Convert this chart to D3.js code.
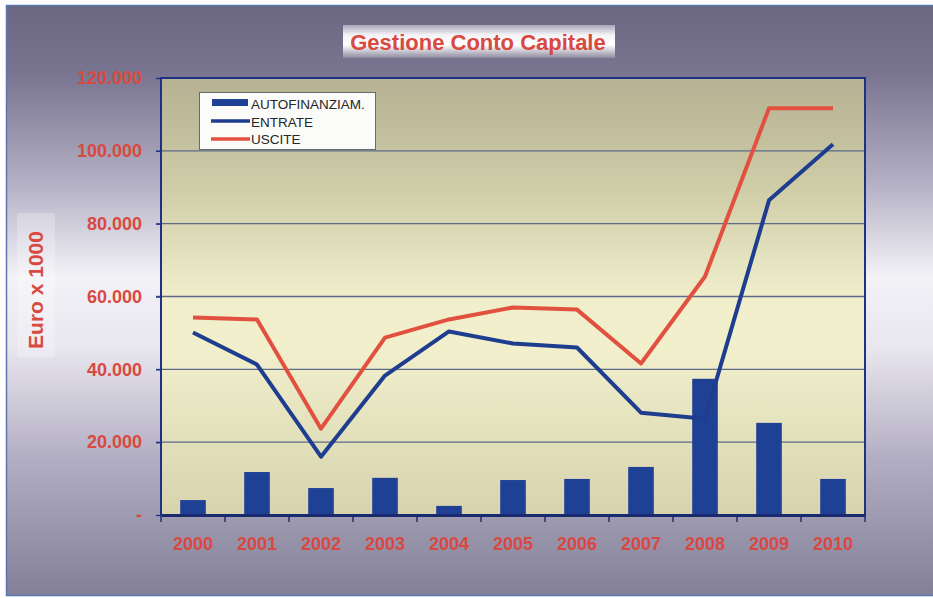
<!DOCTYPE html>
<html>
<head>
<meta charset="utf-8">
<script src="https://cdn.jsdelivr.net/npm/d3@7"></script>
<style>
  html, body { margin: 0; padding: 0; background: #ffffff; }
  svg { display: block; font-family: "Liberation Sans", Arial, sans-serif; }
</style>
</head>
<body>
<svg id="chart" width="933" height="598"></svg>
<script>
// Capital account (Euro x 1000), 2000-2010
const years = ["2000","2001","2002","2003","2004","2005","2006","2007","2008","2009","2010"];
const autofinanziamento = [4100, 11800, 7400, 10200, 2500, 9600, 9900, 13200, 37400, 25300, 9900];
const entrate = [50100, 41300, 16000, 38300, 50400, 47100, 46000, 28100, 26400, 86400, 101800];
const uscite = [54200, 53700, 23700, 48700, 53700, 57000, 56400, 41600, 65500, 111700, 111700];
const yTicks = [0, 20000, 40000, 60000, 80000, 100000, 120000];
const seriesNames = ["AUTOFINANZIAM.", "ENTRATE", "USCITE"];

const W = 933, H = 598;
const plot = { left: 161, right: 865, top: 78, bottom: 515 };
const RED = "#e2503f", LABEL_RED = "#d8493f", NAVY = "#1e3d8f", BAR = "#1f4195";

const svg = d3.select("#chart");
const defs = svg.append("defs");

// page background: purple-grey with a light band through the middle
const bg = defs.append("linearGradient").attr("id", "bg").attr("x1", 0).attr("y1", 0).attr("x2", 0).attr("y2", 1);
[[0, "#6b6783"], [0.12, "#7a7691"], [0.3, "#b3afc4"], [0.46, "#f3f2f7"], [0.58, "#e8e6ee"], [0.78, "#afabc0"], [1, "#837f97"]]
  .forEach(([o, c]) => bg.append("stop").attr("offset", o).attr("stop-color", c));

// plot background: olive at the top fading to pale yellow
const pg = defs.append("linearGradient").attr("id", "plotbg").attr("x1", 0).attr("y1", 0).attr("x2", 0).attr("y2", 1);
[[0, "#b5b192"], [0.25, "#cfcca8"], [0.5, "#f0eecb"], [0.62, "#f1efcc"], [1, "#d6d3ad"]]
  .forEach(([o, c]) => pg.append("stop").attr("offset", o).attr("stop-color", c));

// title box: white centre with grey edges
const tg = defs.append("linearGradient").attr("id", "titlebg").attr("x1", 0).attr("y1", 0).attr("x2", 0).attr("y2", 1);
[[0, "#a9a6b8"], [0.3, "#f4f4f7"], [0.6, "#ffffff"], [1, "#8f8ba0"]]
  .forEach(([o, c]) => tg.append("stop").attr("offset", o).attr("stop-color", c));

svg.append("rect").attr("width", W).attr("height", H).attr("fill", "#ffffff");
svg.append("rect").attr("x", 6).attr("y", 5).attr("width", W - 6).attr("height", 591).attr("fill", "url(#bg)");
// frame lines
svg.append("line").attr("x1", 6).attr("x2", W).attr("y1", 5.5).attr("y2", 5.5).attr("stroke", "#5a78b0").attr("stroke-width", 1.5);
svg.append("line").attr("x1", 6.5).attr("x2", 6.5).attr("y1", 5).attr("y2", 596).attr("stroke", "#5a78b0").attr("stroke-width", 1.5);
svg.append("line").attr("x1", 6).attr("x2", W).attr("y1", 595.5).attr("y2", 595.5).attr("stroke", "#5a78b0").attr("stroke-width", 1.5);

// title
svg.append("rect").attr("x", 343).attr("y", 25).attr("width", 272).attr("height", 33).attr("fill", "url(#titlebg)");
svg.append("text").attr("x", 478).attr("y", 50).attr("text-anchor", "middle")
  .attr("font-size", 22).attr("font-weight", "bold").attr("fill", LABEL_RED)
  .text("Gestione Conto Capitale");

// scales
const x = d3.scaleBand().domain(years).range([plot.left, plot.right]).paddingInner(0.6).paddingOuter(0.3);
const y = d3.scaleLinear().domain([0, 120000]).range([plot.bottom, plot.top]);
const cx = d => x(d) + x.bandwidth() / 2;

// plot area
svg.append("rect").attr("x", plot.left).attr("y", plot.top)
  .attr("width", plot.right - plot.left).attr("height", plot.bottom - plot.top).attr("fill", "url(#plotbg)");

// gridlines
svg.append("g").selectAll("line").data(yTicks.filter(t => t > 0 && t < 120000)).join("line")
  .attr("x1", plot.left - 5).attr("x2", plot.right)
  .attr("y1", d => y(d)).attr("y2", d => y(d))
  .attr("stroke", "#5d6a88").attr("stroke-width", 1.4);

// y axis labels (Italian grouping, zero shown as a dash)
const it = d3.formatLocale({ decimal: ",", thousands: ".", grouping: [3], currency: ["€", ""] });
const fmt = it.format(",");
const yAxis = svg.append("g").attr("transform", `translate(${plot.left},0)`)
  .call(d3.axisLeft(y).tickValues(yTicks).tickSize(5).tickPadding(14).tickFormat(d => d === 0 ? "-" : fmt(d)));
yAxis.select(".domain").remove();
yAxis.selectAll(".tick line").attr("stroke", "#1e3380").attr("stroke-width", 1.4);
yAxis.selectAll(".tick text").attr("font-size", 18).attr("font-weight", "bold")
  .attr("fill", LABEL_RED).attr("font-family", "Liberation Sans, Arial, sans-serif");

// y axis title
svg.append("rect").attr("x", 17).attr("y", 213).attr("width", 38).attr("height", 144).attr("fill", "#ffffff").attr("opacity", 0.25);
svg.append("text").attr("transform", "translate(43,290) rotate(-90)").attr("text-anchor", "middle")
  .attr("font-size", 21).attr("font-weight", "bold").attr("fill", LABEL_RED)
  .text("Euro x 1000");

// bars
svg.append("g").selectAll("rect").data(years).join("rect")
  .attr("x", d => x(d)).attr("width", x.bandwidth())
  .attr("y", (d, i) => y(autofinanziamento[i]))
  .attr("height", (d, i) => y(0) - y(autofinanziamento[i]))
  .attr("fill", BAR);

// lines
const line = d3.line().x((d, i) => cx(years[i])).y(d => y(d));
svg.append("path").datum(entrate).attr("d", line).attr("fill", "none")
  .attr("stroke", NAVY).attr("stroke-width", 4).attr("stroke-linejoin", "round");
svg.append("path").datum(uscite).attr("d", line).attr("fill", "none")
  .attr("stroke", RED).attr("stroke-width", 4).attr("stroke-linejoin", "round");

// plot border (left, top, right)
svg.append("path")
  .attr("d", `M${plot.left},${plot.bottom} V${plot.top} H${plot.right} V${plot.bottom}`)
  .attr("fill", "none").attr("stroke", "#1c3286").attr("stroke-width", 2);

// x axis
const xAxis = svg.append("g").attr("transform", `translate(0,${plot.bottom})`)
  .call(d3.axisBottom(x).tickSize(0).tickPadding(22));
xAxis.select(".domain").attr("stroke", "#1a2a6e").attr("stroke-width", 3);
xAxis.selectAll(".tick text").attr("font-size", 18).attr("font-weight", "bold")
  .attr("fill", LABEL_RED).attr("font-family", "Liberation Sans, Arial, sans-serif");
// category boundary ticks
const bounds = d3.range(years.length + 1).map(i => plot.left + i * x.step());
svg.append("g").selectAll("line").data(bounds).join("line")
  .attr("x1", d => d).attr("x2", d => d).attr("y1", plot.bottom).attr("y2", plot.bottom + 7)
  .attr("stroke", "#1a2a6e").attr("stroke-width", 1.4);

// legend
const lg = svg.append("g");
lg.append("rect").attr("x", 199.5).attr("y", 92.5).attr("width", 176).attr("height", 57)
  .attr("fill", "#fbfbf9").attr("stroke", "#6a6a6a").attr("stroke-width", 1);
const rows = [109, 127, 144];
lg.append("rect").attr("x", 212).attr("y", 99).attr("width", 36).attr("height", 7).attr("fill", BAR);
lg.append("line").attr("x1", 211).attr("x2", 250).attr("y1", 121).attr("y2", 121).attr("stroke", NAVY).attr("stroke-width", 3.5);
lg.append("line").attr("x1", 211).attr("x2", 250).attr("y1", 139).attr("y2", 139).attr("stroke", RED).attr("stroke-width", 3.5);
lg.selectAll("text").data(seriesNames).join("text")
  .attr("x", 251).attr("y", (d, i) => rows[i])
  .attr("font-size", 13.5).attr("fill", "#262626")
  .text(d => d);
</script>
</body>
</html>
